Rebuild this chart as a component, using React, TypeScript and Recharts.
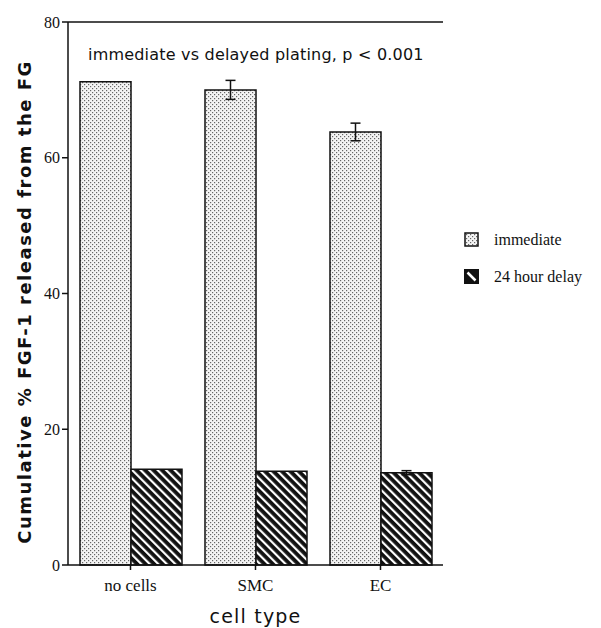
import React from "react";
import {
  BarChart,
  Bar,
  XAxis,
  YAxis,
  ErrorBar,
  Legend,
  ReferenceLine,
} from "recharts";

const categories = ["no cells", "SMC", "EC"];
const immediate = [71.2, 70.0, 63.8];
const immediateErr = [0, 1.4, 1.3];
const delayed = [14.1, 13.8, 13.6];
const delayedErr = [0, 0, 0.3];
const yTicks = [0, 20, 40, 60, 80];
const seriesNames = ["immediate", "24 hour delay"];

const data = categories.map((c, i) => ({
  cell: c,
  immediate: immediate[i],
  immediateErr: immediateErr[i],
  delayed: delayed[i],
  delayedErr: delayedErr[i],
}));

const serif = "'Liberation Serif', 'DejaVu Serif', serif";
const sans = "'DejaVu Sans', Verdana, sans-serif";

function Patterns() {
  return (
    <defs>
      <pattern id="dots" width="4" height="4" patternUnits="userSpaceOnUse">
        <rect width="4" height="4" fill="#f4f4f4" />
        <rect x="0" y="0" width="1.2" height="1.2" fill="#666" />
        <rect x="2" y="2" width="1.2" height="1.2" fill="#666" />
      </pattern>
      <pattern
        id="stripes"
        width="6"
        height="6"
        patternUnits="userSpaceOnUse"
        patternTransform="rotate(-45)"
      >
        <rect width="6" height="6" fill="#111" />
        <rect x="0" y="0" width="2.2" height="6" fill="#fff" />
      </pattern>
    </defs>
  );
}

function YLabel() {
  return (
    <text
      x={24}
      y={302}
      transform="rotate(-90 24 302)"
      textAnchor="middle"
      dominantBaseline="central"
      style={{
        fontFamily: sans,
        fontWeight: "bold",
        fontSize: 18,
        letterSpacing: 1.5,
        fill: "#111",
      }}
    >
      Cumulative % FGF-1 released from the FG
    </text>
  );
}

function LegendBox() {
  return (
    <div style={{ fontFamily: serif, fontSize: 16, color: "#111" }}>
      {seriesNames.map((n, i) => (
        <div
          key={n}
          style={{ display: "flex", alignItems: "center", height: 37 }}
        >
          <svg width={15} height={15} style={{ marginRight: 15 }}>
            {i === 0 ? (
              <rect
                x={1}
                y={1}
                width={13}
                height={13}
                fill="url(#dots)"
                stroke="#111"
                strokeWidth={1.5}
              />
            ) : (
              <g>
                <rect x={0} y={0} width={15} height={15} fill="#111" />
                <line x1={3.5} y1={3.5} x2={11.5} y2={11.5} stroke="#fff" strokeWidth={2.5} />
              </g>
            )}
          </svg>
          <span>{n}</span>
        </div>
      ))}
    </div>
  );
}

export default function App() {
  return (
    <div style={{ position: "absolute", left: 0, top: 0, width: 601, height: 628 }}>
      <BarChart
        width={601}
        height={628}
        data={data}
        margin={{ top: 22, right: 158, bottom: 10, left: 8 }}
        barCategoryGap={12}
        barGap={0}
      >
        <Patterns />
        <XAxis
          dataKey="cell"
          height={53}
          stroke="#111"
          strokeWidth={1.5}
          tickLine={{ stroke: "#111" }}
          tickSize={5}
          tick={{ fontFamily: serif, fontSize: 17, fill: "#111", dy: 7 }}
          label={{
            value: "cell type",
            position: "insideBottom",
            offset: -5,
            style: {
              fontFamily: sans,
              fontSize: 19,
              letterSpacing: 1.2,
              fill: "#111",
            },
          }}
        />
        <YAxis
          width={60}
          domain={[0, 80]}
          ticks={yTicks}
          stroke="#111"
          strokeWidth={1.5}
          tickSize={6}
          tick={{ fontFamily: serif, fontSize: 16, fill: "#111" }}
          label={<YLabel />}
        />
        <YAxis
          yAxisId="right"
          orientation="right"
          width={0}
          domain={[0, 80]}
          ticks={yTicks}
          tick={false}
          tickLine={false}
          stroke="#111"
          strokeWidth={1.5}
        />
        <ReferenceLine y={80} stroke="#111" strokeWidth={1.5} />
        <Legend
          layout="horizontal"
          verticalAlign="middle"
          align="center"
          content={() => <LegendBox />}
          wrapperStyle={{ left: 464, top: 221, width: 137 }}
        />
        <Bar
          dataKey="immediate"
          name={seriesNames[0]}
          fill="url(#dots)"
          stroke="#111"
          strokeWidth={1.5}
          isAnimationActive={false}
        >
          <ErrorBar dataKey="immediateErr" width={5} stroke="#111" strokeWidth={1.5} />
        </Bar>
        <Bar
          dataKey="delayed"
          yAxisId="right"
          name={seriesNames[1]}
          fill="url(#stripes)"
          stroke="#111"
          strokeWidth={1.5}
          isAnimationActive={false}
        >
          <ErrorBar dataKey="delayedErr" width={5} stroke="#111" strokeWidth={1.5} />
        </Bar>
      </BarChart>
      <div
        style={{
          position: "absolute",
          left: 88,
          top: 45,
          fontFamily: sans,
          fontSize: 16,
          letterSpacing: 0.2,
          color: "#111",
          whiteSpace: "nowrap",
        }}
      >
        immediate vs delayed plating, p &lt; 0.001
      </div>
    </div>
  );
}
